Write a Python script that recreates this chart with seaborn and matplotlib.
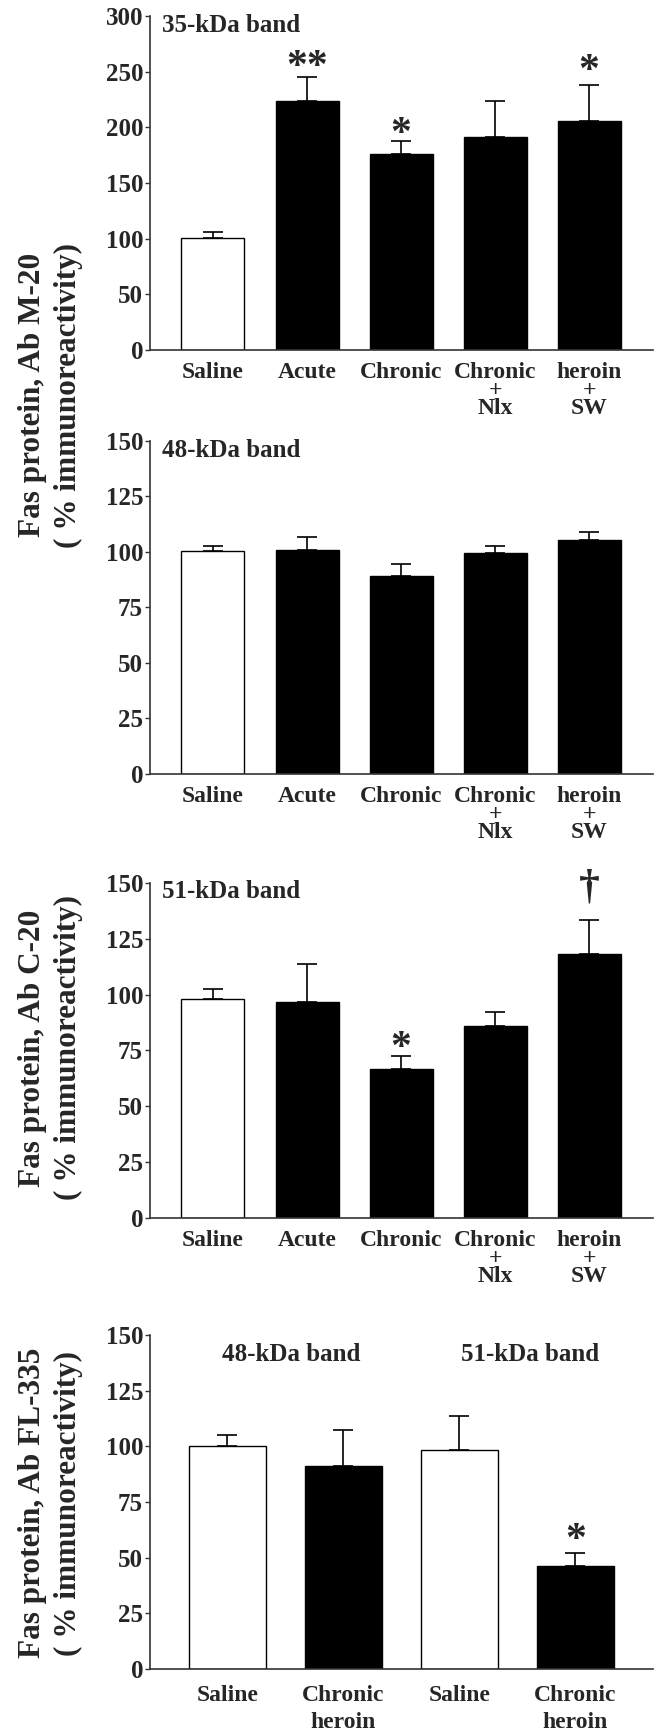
import numpy as np
import pandas as pd
import seaborn as sns
import matplotlib.pyplot as plt

sns.set_style("ticks")
plt.rcParams['font.family'] = ['Liberation Serif', 'DejaVu Serif']
plt.rcParams['font.weight'] = 'bold'

# panels 1-3: five groups
groups5 = ["Saline", "Acute", "Chronic", "Nlx", "SW"]
ticklabels5 = ["Saline", "Acute", "Chronic", "Chronic\n+\nNlx", "heroin\n+\nSW"]
colors5 = ["white", "black", "black", "black", "black"]

m20_35_mean = [101, 224, 176, 191, 206]
m20_35_sem = [5, 21, 12, 33, 32]

m20_48_mean = [100.5, 101, 89, 99.4, 105.3]
m20_48_sem = [2, 5.6, 5.7, 3.1, 3.5]

c20_51_mean = [98, 96.8, 66.7, 86, 118.4]
c20_51_sem = [4.6, 16.7, 5.7, 6.3, 15]

# panel 4: FL-335
groups4 = ["48 Saline", "48 Chronic", "51 Saline", "51 Chronic"]
ticklabels4 = ["Saline", "Chronic\nheroin", "Saline", "Chronic\nheroin"]
colors4 = ["white", "black", "white", "black"]
fl335_mean = [100, 91.3, 98.4, 46]
fl335_sem = [5.1, 15.9, 15.1, 6.2]

fig = plt.figure(figsize=(6.6, 17.3), dpi=100)

TICK_FS = 18
XLAB_FS = 17
BAND_FS = 18
STAR_FS = 30


def panel(rect, groups, labels, colors, means, sems, ymax, step, xlim, width, lsp, pad):
    ax = fig.add_axes(rect)
    df = pd.DataFrame({"group": groups, "value": means})
    sns.barplot(data=df, x="group", y="value", hue="group", order=groups,
                palette=dict(zip(groups, colors)), legend=False, width=width,
                edgecolor="black", linewidth=1, errorbar=None, ax=ax)
    n = len(groups)
    ax.errorbar(np.arange(n), means, yerr=[np.zeros(n), sems], fmt="none",
                ecolor="black", elinewidth=1.2, capsize=7, capthick=1.2, zorder=3)
    ax.set_ylim(0, ymax)
    ax.set_xlim(*xlim)
    ax.set_yticks(np.arange(0, ymax + 1, step))
    ax.set_xticks(np.arange(n))
    ax.set_xticklabels(labels, linespacing=lsp, va="top")
    ax.set_xlabel("")
    ax.set_ylabel("")
    sns.despine(ax=ax)
    for s in ["left", "bottom"]:
        ax.spines[s].set_linewidth(1.2)
        ax.spines[s].set_color("#333333")
    ax.tick_params(axis="y", length=3.5, width=1, labelsize=TICK_FS, pad=1.5, color="#333333")
    ax.tick_params(axis="x", length=0, labelsize=XLAB_FS, pad=pad)
    return ax


def mark(ax, x, y, s, fs=STAR_FS, dy=-7.2):
    ax.annotate(s, (x, y), xytext=(0, dy), textcoords="offset points",
                ha="center", va="center", fontsize=fs, annotation_clip=False)


L, W = 150 / 660, 503 / 660
xl5 = (-0.67, 4.68)

ax1 = panel([L, 0.7977, W, 0.1931], groups5, ticklabels5, colors5,
            m20_35_mean, m20_35_sem, 300, 50, xl5, 0.67, 0.81, 8.5)
ax1.text(0.024, 0.97, "35-kDa band", transform=ax1.transAxes, fontsize=BAND_FS, va="center")
mark(ax1, 1, 262, "**")
mark(ax1, 2, 202, "*")
mark(ax1, 4, 259, "*")

ax2 = panel([L, 0.5526, W, 0.1925], groups5, ticklabels5, colors5,
            m20_48_mean, m20_48_sem, 150, 25, xl5, 0.67, 0.81, 8.5)
ax2.text(0.024, 0.971, "48-kDa band", transform=ax2.transAxes, fontsize=BAND_FS, va="center")

ax3 = panel([L, 0.296, W, 0.1936], groups5, ticklabels5, colors5,
            c20_51_mean, c20_51_sem, 150, 25, xl5, 0.67, 0.81, 8.5)
ax3.text(0.024, 0.974, "51-kDa band", transform=ax3.transAxes, fontsize=BAND_FS, va="center")
mark(ax3, 2, 80, "*")
mark(ax3, 4, 148.7, "†", fs=30, dy=-1)

ax4 = panel([L, 0.0353, W, 0.1931], groups4, ticklabels4, colors4,
            fl335_mean, fl335_sem, 150, 25, (-0.668, 3.67), 0.66, 1.4, 11.3)
ax4.text(0.55, 141, "48-kDa band", ha="center", va="center", fontsize=BAND_FS)
ax4.text(2.61, 141, "51-kDa band", ha="center", va="center", fontsize=BAND_FS)
mark(ax4, 3, 62, "*")

ylab_kw = dict(rotation=90, ha="center", va="center", fontsize=22.5, linespacing=1.3)
fig.text(0.077, 1 - 395 / 1730, "Fas protein, Ab M-20\n( % immunoreactivity)", **ylab_kw)
fig.text(0.077, 1 - 1048 / 1730, "Fas protein, Ab C-20\n( % immunoreactivity)", **ylab_kw)
fig.text(0.077, 1 - 1503 / 1730, "Fas protein, Ab FL-335\n( % immunoreactivity)", **ylab_kw)

fig.savefig("out.png", dpi=100)
